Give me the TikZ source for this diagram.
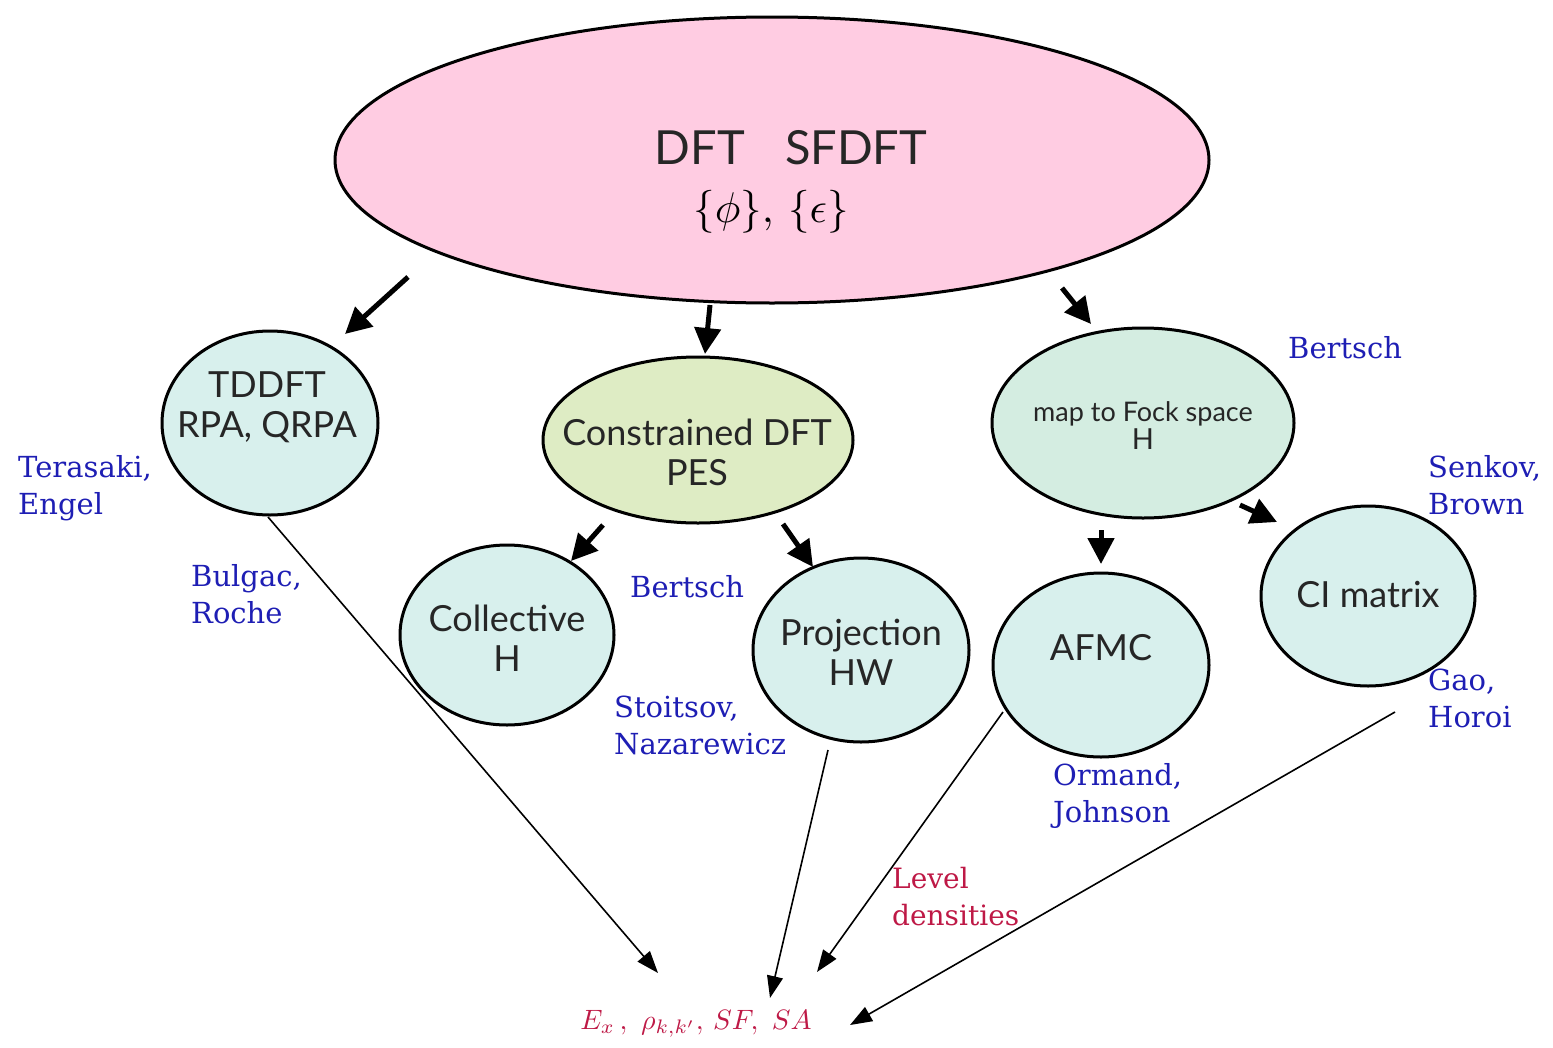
\documentclass[tikz,border=0pt]{standalone}
\usepackage{fontspec}
\setmainfont{DejaVu Serif}
\newfontfamily\nodefont{Lato}
\usetikzlibrary{shapes.geometric,arrows.meta}
\definecolor{pinkfill}{RGB}{255,204,226}
\definecolor{cyanfill}{RGB}{216,240,237}
\definecolor{greenfill}{RGB}{222,236,196}
\definecolor{fockfill}{RGB}{212,237,225}
\definecolor{refblue}{RGB}{30,30,180}
\definecolor{refred}{RGB}{190,25,70}
\tikzset{
  blob/.style={ellipse, draw=black, line width=3pt, inner sep=0pt},
  btext/.style={align=center, inner sep=0pt, text=black!85, font=\nodefont\fontsize{36}{40}\selectfont},
  bigarrow/.style={line width=5pt, -{Triangle[length=26pt,width=26pt]}},
  thinarrow/.style={line width=1.6pt, -{Triangle[length=22pt,width=16pt]}},
  who/.style={text=refblue, align=left, anchor=north west, inner sep=0pt, font=\fontsize{29}{37}\selectfont},
  res/.style={text=refred, align=left, anchor=north west, inner sep=0pt, font=\fontsize{28}{37}\selectfont}
}
\begin{document}
\begin{tikzpicture}[x=1pt,y=-1pt]
\useasboundingbox (0,0) rectangle (1553,1047);
% main nodes
\node[blob, fill=pinkfill, minimum width=874pt, minimum height=286pt] (dft) at (772,160) {};
\node[btext, font=\nodefont\fontsize{47}{50}\selectfont] (dftlbl) at (791,148) {DFT\hspace{0.85em}SFDFT};
\node[font=\fontsize{10}{12}\selectfont, inner sep=0pt, scale=4.3] (dftmath) at (771,212) {$\{\phi\},\,\{\epsilon\}$};
\node[blob, fill=cyanfill, minimum width=216pt, minimum height=184pt] (tddft) at (270,423) {};
\node[btext] (tddftlbl) at (267,407) {TDDFT\\RPA, QRPA};
\node[blob, fill=greenfill, minimum width=310pt, minimum height=166pt] (cdft) at (698,440) {};
\node[btext] (cdftlbl) at (697,452) {Constrained DFT\\PES};
\node[blob, fill=fockfill, minimum width=302pt, minimum height=190pt] (fock) at (1143,423) {};
\node[btext, font=\nodefont\fontsize{27}{28}\selectfont] (focklbl) at (1143,426) {map to Fock space\\\fontsize{29}{28}\selectfont H};
\node[blob, fill=cyanfill, minimum width=214pt, minimum height=180pt] (coll) at (507,635) {};
\node[btext] (colllbl) at (507,638) {Collective\\H};
\node[blob, fill=cyanfill, minimum width=216pt, minimum height=184pt] (proj) at (861,650) {};
\node[btext] (projlbl) at (861,652) {Projection\\HW};
\node[blob, fill=cyanfill, minimum width=216pt, minimum height=184pt] (afmc) at (1101,665) {};
\node[btext] (afmclbl) at (1101,648) {AFMC};
\node[blob, fill=cyanfill, minimum width=214pt, minimum height=180pt] (ci) at (1368,596) {};
\node[btext] (cilbl) at (1368,595) {CI matrix};
% result label
\node[text=refred, font=\fontsize{10}{12}\selectfont, inner sep=0pt, scale=2.8] (result) at (696,1024) {$E_x\, ,\ \rho_{k,k'},\, SF,\ SA$};
% author labels
\node[who] (teras) at (18,455) {Terasaki,\\Engel};
\node[who] (bulg) at (191,564) {Bulgac,\\Roche};
\node[who] (bert1) at (630,575) {Bertsch};
\node[who] (stoi) at (614,696) {Stoitsov,\\Nazarewicz};
\node[who] (bert2) at (1288,336) {Bertsch};
\node[who] (senk) at (1428,455) {Senkov,\\Brown};
\node[who] (gao) at (1428,669) {Gao,\\Horoi};
\node[who] (orm) at (1053,763) {Ormand,\\Johnson};
\node[res] (lev) at (892,867) {Level\\densities};
% thick arrows
\coordinate (a1s) at (408,277); \coordinate (a1e) at (345,334);
\coordinate (a2s) at (710,305); \coordinate (a2e) at (705,354);
\coordinate (a3s) at (1062,288); \coordinate (a3e) at (1091,324);
\coordinate (a4s) at (603,525); \coordinate (a4e) at (571,561);
\coordinate (a5s) at (783,524); \coordinate (a5e) at (813,567);
\coordinate (a6s) at (1101,530); \coordinate (a6e) at (1101,564);
\coordinate (a7s) at (1240,505); \coordinate (a7e) at (1277,522);
\draw[bigarrow] (a1s) -- (a1e);
\draw[bigarrow] (a2s) -- (a2e);
\draw[bigarrow] (a3s) -- (a3e);
\draw[bigarrow] (a4s) -- (a4e);
\draw[bigarrow] (a5s) -- (a5e);
\draw[bigarrow] (a6s) -- (a6e);
\draw[bigarrow] (a7s) -- (a7e);
% thin arrows
\coordinate (t1s) at (268,517); \coordinate (t1e) at (658,973);
\coordinate (t2s) at (828,750); \coordinate (t2e) at (770,998);
\coordinate (t3s) at (1003,712); \coordinate (t3e) at (817,972);
\coordinate (t4s) at (1395,712); \coordinate (t4e) at (850,1025);
\draw[thinarrow] (t1s) -- (t1e);
\draw[thinarrow] (t2s) -- (t2e);
\draw[thinarrow] (t3s) -- (t3e);
\draw[thinarrow] (t4s) -- (t4e);
\end{tikzpicture}
\end{document}
